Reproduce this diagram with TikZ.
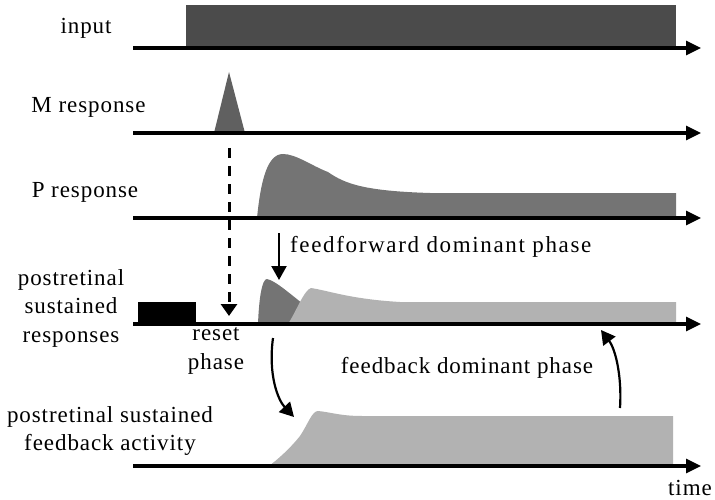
\documentclass[tikz,border=0pt]{standalone}
\usepackage{fontspec}
\setmainfont{Liberation Serif}[LetterSpace=4]
\usetikzlibrary{arrows.meta}
\definecolor{inputgray}{HTML}{4B4B4B}
\definecolor{mgray}{HTML}{606060}
\definecolor{pgray}{HTML}{747474}
\definecolor{lightgray}{HTML}{B2B2B2}
\tikzset{
  lbl/.style={inner sep=0pt, align=center, font=\fontsize{23}{28.5}\selectfont},
  widelbl/.style={lbl, font=\fontsize{23}{28.5}\selectfont\addfontfeature{LetterSpace=7.2}},
  axisline/.style={line width=3.2pt, -{Triangle[length=15pt,width=14pt]}},
  phasearrow/.style={line width=2.2pt, -{Triangle[length=14pt,width=15pt]}},
  resetarrow/.style={line width=3pt, dash pattern=on 10pt off 8pt, -{Triangle[length=12pt,width=16pt]}},
}
\begin{document}
\begin{tikzpicture}[x=1pt,y=-1pt]
\useasboundingbox (0,0) rectangle (715,500);

% ---- fills ----
\fill[inputgray] (186,5) rectangle (676,48);
\fill[mgray] (214,133) -- (229,72) -- (245,133) -- cycle;
\fill[pgray] (257,218) .. controls (261,178) and (268,154) .. (283,154)
  .. controls (296,154) and (312,166) .. (328,172)
  .. controls (345,184) and (365,191) .. (430,193)
  -- (676,193) -- (676,218) -- cycle;
\fill[black] (138,302) rectangle (196,324);
\fill[pgray] (258,324) .. controls (259,298) and (262,279) .. (267,279)
  .. controls (276,281) and (290,294) .. (302,303)
  -- (312,324) -- cycle;
\fill[lightgray] (288,324) .. controls (296,312) and (304,290) .. (311,288)
  .. controls (330,291) and (350,299) .. (400,302)
  -- (676,302) -- (676,324) -- cycle;
\fill[lightgray] (269,466) .. controls (282,456) and (292,446) .. (300,436)
  .. controls (308,424) and (312,411) .. (318,411)
  .. controls (330,412) and (340,416) .. (362,416)
  -- (673,416) -- (673,466) -- cycle;

% ---- axes ----
\coordinate (a1s) at (133,48);  \coordinate (a1e) at (701,48);
\coordinate (a2s) at (133,133); \coordinate (a2e) at (701,133);
\coordinate (a3s) at (133,218); \coordinate (a3e) at (701,218);
\coordinate (a4s) at (133,324); \coordinate (a4e) at (701,324);
\coordinate (a5s) at (133,466); \coordinate (a5e) at (701,466);
\draw[axisline] (a1s) -- (a1e);
\draw[axisline] (a2s) -- (a2e);
\draw[axisline] (a3s) -- (a3e);
\draw[axisline] (a4s) -- (a4e);
\draw[axisline] (a5s) -- (a5e);

% ---- labels ----
\node[lbl] (input) at (86,28) {input};
\node[lbl] (mresp) at (88.5,107) {M response};
\node[lbl] (presp) at (85,192) {P response};
\node[lbl] (post) at (71,308) {postretinal\\sustained\\responses};
\node[lbl] (reset) at (216,351) {reset\\phase};
\node[lbl] (fbact) at (110,431) {postretinal sustained\\feedback activity};
\node[widelbl, anchor=west] (ff) at (290,247) {feedforward dominant phase};
\node[lbl] (fb) at (467,368) {feedback dominant phase};
\node[lbl] (time) at (690,488) {time};

% ---- arrows ----
\coordinate (mpeak) at (229,148);
\coordinate (resetend) at (229,316);
\draw[resetarrow] (mpeak) -- (resetend);
\coordinate (ffs) at (279,233);
\coordinate (ffe) at (279,280);
\draw[phasearrow] (ffs) -- (ffe);
\coordinate (dns) at (273,338);
\coordinate (dne) at (294,417);
\draw[phasearrow] (dns) .. controls (268,375) and (278,400) .. (dne);
\coordinate (ups) at (620,408);
\coordinate (upe) at (601,330);
\draw[phasearrow] (ups) .. controls (622,378) and (616,350) .. (upe);
\end{tikzpicture}
\end{document}
